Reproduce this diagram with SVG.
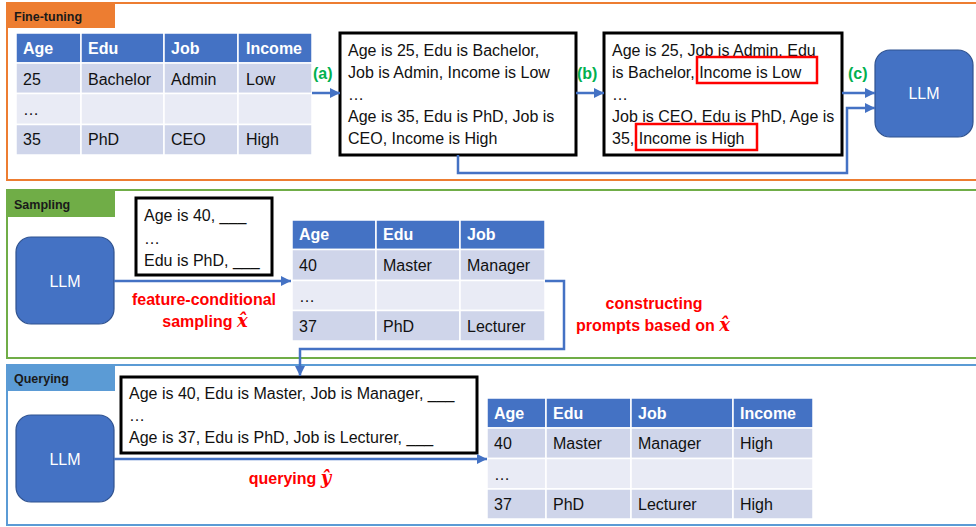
<svg xmlns="http://www.w3.org/2000/svg" width="976" height="527" viewBox="0 0 976 527">
<style>
text{font-family:"Liberation Sans",Arial,sans-serif;}
.lbl{font-size:12.5px;font-weight:bold;fill:#1a1a1a;}
.hd{fill:#4472C4;stroke:#fff;stroke-width:1.5;}
.r1{fill:#CFD5EA;stroke:#fff;stroke-width:1.5;}
.r2{fill:#E9EBF5;stroke:#fff;stroke-width:1.5;}
.ht{font-size:16px;font-weight:bold;fill:#fff;}
.ct{font-size:16px;fill:#111;}
.box{fill:#fff;stroke:#000;stroke-width:3;}
.bt{font-size:16px;fill:#111;}
.llm{fill:#4472C4;stroke:#2F528F;stroke-width:1.2;}
.llmt{font-size:16px;fill:#fff;text-anchor:middle;}
.red{font-size:16px;font-weight:bold;fill:#FF0000;text-anchor:middle;}
.grn{font-size:16px;font-weight:bold;fill:#00B050;}
.con{fill:none;stroke:#4472C4;stroke-width:2.5;marker-end:url(#ah);}
.hl{fill:none;stroke:#FF0000;stroke-width:2.5;}
.m{font-family:"DejaVu Serif","Liberation Serif",serif;font-style:italic;font-size:18px;}
</style>
<defs>
<marker id="ah" viewBox="0 0 10 10" refX="10" refY="5" markerWidth="10" markerHeight="10" markerUnits="userSpaceOnUse" orient="auto">
<path d="M0,0 L10,5 L0,10 z" fill="#4472C4"/>
</marker>
</defs>

<!-- Panels -->
<g id="panel-finetuning">
<rect x="7" y="3" width="990" height="177" fill="#fff" stroke="#ED7D31" stroke-width="2"/>
<rect x="7" y="3" width="108" height="25" fill="#ED7D31"/>
<text class="lbl" x="14" y="21">Fine-tuning</text>
</g>
<g id="panel-sampling">
<rect x="7" y="190" width="990" height="168" fill="#fff" stroke="#70AD47" stroke-width="2"/>
<rect x="7" y="190" width="108" height="27" fill="#70AD47"/>
<text class="lbl" x="14" y="209">Sampling</text>
</g>
<g id="panel-querying">
<rect x="7" y="365" width="990" height="160" fill="#fff" stroke="#5B9BD5" stroke-width="2"/>
<rect x="7" y="365" width="108" height="26" fill="#5B9BD5"/>
<text class="lbl" x="14" y="383">Querying</text>
</g>

<!-- Table 1 -->
<g id="table-train">
<rect class="hd" x="16" y="33" width="65" height="30"/>
<rect class="hd" x="81" y="33" width="83" height="30"/>
<rect class="hd" x="164" y="33" width="74" height="30"/>
<rect class="hd" x="238" y="33" width="74" height="30"/>
<rect class="r1" x="16" y="63" width="65" height="30.5"/>
<rect class="r1" x="81" y="63" width="83" height="30.5"/>
<rect class="r1" x="164" y="63" width="74" height="30.5"/>
<rect class="r1" x="238" y="63" width="74" height="30.5"/>
<rect class="r2" x="16" y="93.5" width="65" height="31"/>
<rect class="r2" x="81" y="93.5" width="83" height="31"/>
<rect class="r2" x="164" y="93.5" width="74" height="31"/>
<rect class="r2" x="238" y="93.5" width="74" height="31"/>
<rect class="r1" x="16" y="124.5" width="65" height="30.5"/>
<rect class="r1" x="81" y="124.5" width="83" height="30.5"/>
<rect class="r1" x="164" y="124.5" width="74" height="30.5"/>
<rect class="r1" x="238" y="124.5" width="74" height="30.5"/>
<text class="ht" x="23" y="54">Age</text>
<text class="ht" x="88" y="54">Edu</text>
<text class="ht" x="171" y="54">Job</text>
<text class="ht" x="246" y="54">Income</text>
<text class="ct" x="23" y="85">25</text>
<text class="ct" x="88" y="85">Bachelor</text>
<text class="ct" x="171" y="85">Admin</text>
<text class="ct" x="246" y="85">Low</text>
<text class="ct" x="23" y="115">…</text>
<text class="ct" x="23" y="145">35</text>
<text class="ct" x="88" y="145">PhD</text>
<text class="ct" x="171" y="145">CEO</text>
<text class="ct" x="246" y="145">High</text>
</g>

<!-- Box 1 -->
<g id="box-serialized">
<rect class="box" x="340" y="33" width="236" height="122"/>
<text class="bt" x="348" y="56">Age is 25, Edu is Bachelor,</text>
<text class="bt" x="348" y="78">Job is Admin, Income is Low</text>
<text class="bt" x="348" y="100">…</text>
<text class="bt" x="348" y="122">Age is 35, Edu is PhD, Job is</text>
<text class="bt" x="348" y="144">CEO, Income is High</text>
</g>

<!-- Box 2 -->
<g id="box-permuted">
<rect class="box" x="604" y="33" width="238" height="122"/>
<text class="bt" x="612" y="56">Age is 25, Job is Admin, Edu</text>
<text class="bt" x="612" y="78">is Bachelor, Income is Low</text>
<text class="bt" x="612" y="100">…</text>
<text class="bt" x="612" y="122">Job is CEO, Edu is PhD, Age is</text>
<text class="bt" x="612" y="144">35, Income is High</text>
<rect class="hl" x="697" y="57" width="120" height="26"/>
<rect class="hl" x="636" y="124" width="121" height="26"/>
</g>

<!-- LLM 1 -->
<g id="llm-finetune">
<rect class="llm" x="875" y="50" width="98" height="87" rx="15"/>
<text class="llmt" x="924" y="99">LLM</text>
</g>

<!-- Sampling -->
<g id="llm-sampling">
<rect class="llm" x="16" y="237" width="98" height="87" rx="15"/>
<text class="llmt" x="65" y="287">LLM</text>
</g>
<g id="box-sampling-prompt">
<rect class="box" x="136" y="198" width="136" height="77"/>
<text class="bt" x="144" y="221">Age is 40, ___</text>
<text class="bt" x="144" y="244">…</text>
<text class="bt" x="144" y="266">Edu is PhD, ___</text>
</g>
<g id="table-sampled">
<rect class="hd" x="292" y="220" width="84" height="29.5"/>
<rect class="hd" x="376" y="220" width="84" height="29.5"/>
<rect class="hd" x="460" y="220" width="85" height="29.5"/>
<rect class="r1" x="292" y="249.5" width="84" height="31"/>
<rect class="r1" x="376" y="249.5" width="84" height="31"/>
<rect class="r1" x="460" y="249.5" width="85" height="31"/>
<rect class="r2" x="292" y="280.5" width="84" height="30"/>
<rect class="r2" x="376" y="280.5" width="84" height="30"/>
<rect class="r2" x="460" y="280.5" width="85" height="30"/>
<rect class="r1" x="292" y="310.5" width="84" height="30.5"/>
<rect class="r1" x="376" y="310.5" width="84" height="30.5"/>
<rect class="r1" x="460" y="310.5" width="85" height="30.5"/>
<text class="ht" x="299" y="240">Age</text>
<text class="ht" x="383" y="240">Edu</text>
<text class="ht" x="467" y="240">Job</text>
<text class="ct" x="299" y="271">40</text>
<text class="ct" x="383" y="271">Master</text>
<text class="ct" x="467" y="271">Manager</text>
<text class="ct" x="299" y="302">…</text>
<text class="ct" x="299" y="332">37</text>
<text class="ct" x="383" y="332">PhD</text>
<text class="ct" x="467" y="332">Lecturer</text>
</g>

<!-- Querying -->
<g id="llm-querying">
<rect class="llm" x="16" y="415" width="98" height="87" rx="15"/>
<text class="llmt" x="65" y="465">LLM</text>
</g>
<g id="box-query-prompt">
<rect class="box" x="121" y="377" width="356" height="76"/>
<text class="bt" x="129" y="399">Age is 40, Edu is Master, Job is Manager, ___</text>
<text class="bt" x="129" y="421">…</text>
<text class="bt" x="129" y="443">Age is 37, Edu is PhD, Job is Lecturer, ___</text>
</g>
<g id="table-result">
<rect class="hd" x="487" y="398" width="59" height="30"/>
<rect class="hd" x="546" y="398" width="85" height="30"/>
<rect class="hd" x="631" y="398" width="102" height="30"/>
<rect class="hd" x="733" y="398" width="80" height="30"/>
<rect class="r1" x="487" y="428" width="59" height="30.5"/>
<rect class="r1" x="546" y="428" width="85" height="30.5"/>
<rect class="r1" x="631" y="428" width="102" height="30.5"/>
<rect class="r1" x="733" y="428" width="80" height="30.5"/>
<rect class="r2" x="487" y="458.5" width="59" height="30.5"/>
<rect class="r2" x="546" y="458.5" width="85" height="30.5"/>
<rect class="r2" x="631" y="458.5" width="102" height="30.5"/>
<rect class="r2" x="733" y="458.5" width="80" height="30.5"/>
<rect class="r1" x="487" y="489" width="59" height="30"/>
<rect class="r1" x="546" y="489" width="85" height="30"/>
<rect class="r1" x="631" y="489" width="102" height="30"/>
<rect class="r1" x="733" y="489" width="80" height="30"/>
<text class="ht" x="494" y="419">Age</text>
<text class="ht" x="553" y="419">Edu</text>
<text class="ht" x="638" y="419">Job</text>
<text class="ht" x="740" y="419">Income</text>
<text class="ct" x="494" y="449">40</text>
<text class="ct" x="553" y="449">Master</text>
<text class="ct" x="638" y="449">Manager</text>
<text class="ct" x="740" y="449">High</text>
<text class="ct" x="494" y="480">…</text>
<text class="ct" x="494" y="510">37</text>
<text class="ct" x="553" y="510">PhD</text>
<text class="ct" x="638" y="510">Lecturer</text>
<text class="ct" x="740" y="510">High</text>
</g>

<!-- Connectors -->
<g id="connectors">
<path class="con" d="M312,93 L340,93"/>
<path class="con" d="M576,93 L604,93"/>
<path class="con" d="M842,93 L875,93"/>
<path class="con" d="M458,155 L458,173 L847,173 L847,108 L875,108"/>
<path class="con" d="M114,281 L291,281"/>
<path class="con" d="M545,281 L564,281 L564,349 L300,349 L300,376"/>
<path class="con" d="M114,459 L487,459"/>
</g>

<!-- Labels -->
<g id="labels">
<text class="grn" x="313" y="79">(a)</text>
<text class="grn" x="577" y="79">(b)</text>
<text class="grn" x="848" y="79">(c)</text>
<text class="red" x="204" y="305">feature-conditional</text>
<text class="red" x="205" y="327">sampling <tspan class="m">x̂</tspan></text>
<text class="red" x="654" y="309">constructing</text>
<text class="red" x="653" y="331">prompts based on <tspan class="m">x̂</tspan></text>
<text class="red" x="290" y="484">querying <tspan class="m">ŷ</tspan></text>
</g>
</svg>
